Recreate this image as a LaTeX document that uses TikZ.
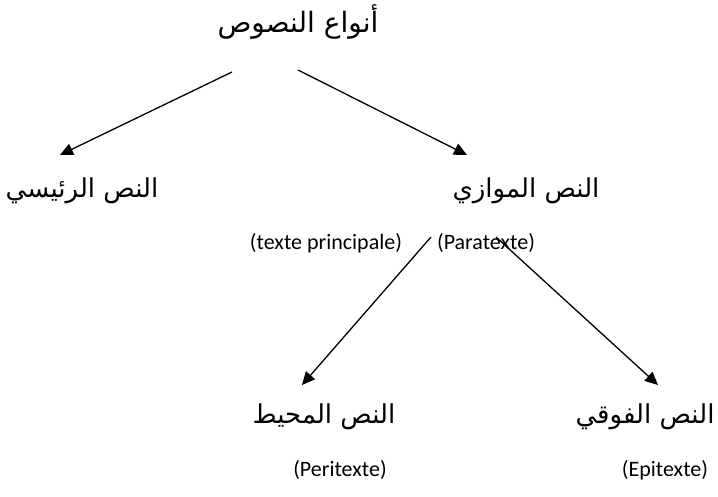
\documentclass[tikz,border=0pt]{standalone}
\usepackage{fontspec}
\setmainfont{Carlito}
\newfontfamily\arabicfont[Script=Arabic]{DejaVu Sans}
\TeXXeTstate=1
\usetikzlibrary{arrows.meta}
\begin{document}
\begin{tikzpicture}[x=1pt,y=-1pt,
  ar/.style={font=\arabicfont\fontsize{26}{30}\selectfont, inner sep=0pt},
  la/.style={font=\fontsize{22}{26}\selectfont, inner sep=0pt},
  conn/.style={line width=1.3pt, -{Triangle[length=13pt,width=12pt]}}]
\useasboundingbox (0,0) rectangle (718,496);
\fill[white] (0,0) rectangle (718,496);
% texts
\node[ar, font=\arabicfont\fontsize{28}{32}\selectfont] (root) at (298,22) {\beginR أنواع النصوص\endR};
\node[ar] (main) at (82,191) {\beginR النص الرئيسي\endR};
\node[ar] (para) at (526,191) {\beginR النص الموازي\endR};
\node[la] (mainfr) at (326,243) {(texte principale)};
\node[la] (parafr) at (486,243) {(Paratexte)};
\node[ar] (peri) at (324,417) {\beginR النص المحيط\endR};
\node[ar] (epi) at (645,417) {\beginR النص الفوقي\endR};
\node[la] (perifr) at (340,470) {(Peritexte)};
\node[la] (epifr) at (665,470) {(Epitexte)};
% connector ends
\coordinate (r1) at (232,72);
\coordinate (r2) at (298,70);
\coordinate (m1) at (60,155);
\coordinate (p1) at (467,155);
\coordinate (p2) at (431,237);
\coordinate (p3) at (496,237);
\coordinate (e1) at (302,385);
\coordinate (e2) at (658,385);
% connectors
\draw[conn] (r1) -- (m1);
\draw[conn] (r2) -- (p1);
\draw[conn] (p2) -- (e1);
\draw[conn] (p3) -- (e2);
\end{tikzpicture}
\end{document}
